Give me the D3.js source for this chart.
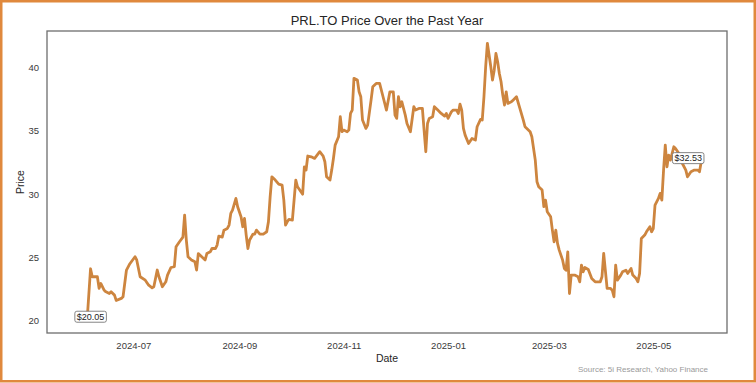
<!DOCTYPE html>
<html><head><meta charset="utf-8">
<script src="https://cdn.jsdelivr.net/npm/d3@7"></script>
<style>html,body{margin:0;padding:0;background:#fff;}svg{display:block;font-family:"Liberation Sans",Arial,Helvetica,sans-serif;}</style>
</head><body>
<svg id="chart" width="756" height="383"></svg>
<script>
const titleText = "PRL.TO Price Over the Past Year";
const dates = ["2024-06-04","2024-06-06","2024-06-07","2024-06-10","2024-06-11","2024-06-12","2024-06-14","2024-06-15","2024-06-17","2024-06-18","2024-06-20","2024-06-21","2024-06-24","2024-06-25","2024-06-27","2024-06-29","2024-07-02","2024-07-03","2024-07-05","2024-07-08","2024-07-10","2024-07-12","2024-07-13","2024-07-15","2024-07-16","2024-07-18","2024-07-20","2024-07-21","2024-07-23","2024-07-25","2024-07-26","2024-07-28","2024-07-30","2024-07-31","2024-08-01","2024-08-02","2024-08-04","2024-08-06","2024-08-07","2024-08-08","2024-08-10","2024-08-12","2024-08-13","2024-08-15","2024-08-16","2024-08-18","2024-08-19","2024-08-20","2024-08-22","2024-08-23","2024-08-25","2024-08-26","2024-08-27","2024-08-28","2024-08-30","2024-08-31","2024-09-02","2024-09-03","2024-09-04","2024-09-05","2024-09-06","2024-09-07","2024-09-09","2024-09-10","2024-09-11","2024-09-13","2024-09-15","2024-09-17","2024-09-18","2024-09-19","2024-09-20","2024-09-22","2024-09-24","2024-09-26","2024-09-27","2024-09-28","2024-09-29","2024-09-30","2024-10-02","2024-10-03","2024-10-04","2024-10-05","2024-10-08","2024-10-09","2024-10-10","2024-10-11","2024-10-13","2024-10-15","2024-10-18","2024-10-20","2024-10-21","2024-10-22","2024-10-24","2024-10-25","2024-10-26","2024-10-27","2024-10-29","2024-10-30","2024-10-31","2024-11-01","2024-11-03","2024-11-04","2024-11-05","2024-11-06","2024-11-07","2024-11-09","2024-11-10","2024-11-11","2024-11-12","2024-11-14","2024-11-15","2024-11-17","2024-11-18","2024-11-20","2024-11-22","2024-11-24","2024-11-26","2024-11-28","2024-11-30","2024-12-01","2024-12-02","2024-12-03","2024-12-04","2024-12-05","2024-12-07","2024-12-08","2024-12-10","2024-12-12","2024-12-13","2024-12-15","2024-12-17","2024-12-18","2024-12-19","2024-12-20","2024-12-21","2024-12-23","2024-12-24","2024-12-26","2024-12-28","2024-12-30","2024-12-31","2025-01-01","2025-01-03","2025-01-04","2025-01-06","2025-01-07","2025-01-08","2025-01-09","2025-01-10","2025-01-11","2025-01-13","2025-01-15","2025-01-17","2025-01-18","2025-01-20","2025-01-21","2025-01-22","2025-01-23","2025-01-24","2025-01-26","2025-01-27","2025-01-28","2025-01-29","2025-01-30","2025-01-31","2025-02-01","2025-02-02","2025-02-03","2025-02-04","2025-02-05","2025-02-07","2025-02-08","2025-02-10","2025-02-12","2025-02-14","2025-02-15","2025-02-18","2025-02-19","2025-02-21","2025-02-22","2025-02-23","2025-02-25","2025-02-26","2025-02-27","2025-02-28","2025-03-02","2025-03-03","2025-03-04","2025-03-05","2025-03-06","2025-03-07","2025-03-09","2025-03-10","2025-03-11","2025-03-12","2025-03-13","2025-03-14","2025-03-16","2025-03-18","2025-03-19","2025-03-20","2025-03-21","2025-03-22","2025-03-24","2025-03-26","2025-03-28","2025-03-31","2025-04-01","2025-04-02","2025-04-04","2025-04-06","2025-04-07","2025-04-08","2025-04-09","2025-04-10","2025-04-12","2025-04-13","2025-04-15","2025-04-16","2025-04-18","2025-04-19","2025-04-21","2025-04-22","2025-04-23","2025-04-24","2025-04-26","2025-04-27","2025-04-29","2025-04-30","2025-05-01","2025-05-02","2025-05-04","2025-05-05","2025-05-06","2025-05-07","2025-05-08","2025-05-09","2025-05-10","2025-05-11","2025-05-13","2025-05-14","2025-05-16","2025-05-18","2025-05-20","2025-05-21","2025-05-23","2025-05-25","2025-05-27","2025-05-28","2025-05-29"];
const prices = [20.05,24.1,23.47,23.47,22.55,22.94,22.4,22.28,22.15,22.28,22.02,21.6,21.76,21.89,24.0,24.5,25.05,24.8,23.47,23.2,22.8,22.6,22.68,24.0,23.47,22.68,23.07,23.6,24.2,24.26,25.84,26.23,26.6,28.33,26.37,25.05,24.8,24.65,24.0,25.3,25.05,24.8,25.3,25.44,25.7,25.7,25.97,26.68,26.6,27.15,27.28,27.55,28.47,28.73,29.65,29.0,28.2,27.42,28.07,26.76,25.7,26.37,26.84,26.84,27.15,26.84,26.84,27.02,27.81,29.78,31.36,31.1,30.78,30.7,29.52,27.55,27.81,28.0,27.94,29.52,31.1,30.57,29.99,32.15,31.89,33.0,32.94,32.81,33.34,33.0,32.55,31.36,31.1,31.89,32.81,33.86,34.52,36.1,34.92,35.05,34.92,35.05,36.36,36.63,39.13,39.0,38.07,37.68,35.84,35.18,35.44,37.41,38.47,38.73,38.73,37.68,36.63,38.07,38.07,36.23,35.97,37.68,36.89,37.28,36.23,35.57,34.92,36.89,36.63,36.76,36.76,35.05,33.34,35.57,35.97,36.1,36.89,36.63,36.36,36.15,36.36,35.97,36.5,36.63,36.63,36.36,37.1,36.63,35.18,34.65,33.99,34.39,34.26,35.31,35.89,35.84,37.68,40.05,41.9,40.05,39.0,39.78,41.1,40.44,39.52,38.86,37.81,37.02,38.07,37.15,37.28,37.41,37.68,36.76,35.84,35.31,34.92,34.52,32.68,30.97,30.57,30.31,29.0,29.52,28.6,28.2,27.15,26.23,27.15,26.1,25.57,24.78,24.12,23.99,25.44,22.15,23.6,23.6,23.47,23.07,24.39,23.86,24.2,24.05,23.33,23.07,23.07,23.47,25.31,22.55,22.55,22.41,21.89,24.39,23.2,23.6,23.86,23.99,23.73,24.12,23.6,23.33,23.07,23.73,26.49,26.76,27.02,27.42,27.02,27.28,29.13,29.65,30.05,29.52,31.89,33.86,32.15,33.07,32.68,33.73,33.6,33.2,32.41,31.89,31.36,31.76,31.89,31.89,31.76,32.53];
const yTicks = [20, 25, 30, 35, 40];
const xTickDates = ["2024-07-01","2024-09-01","2024-11-01","2025-01-01","2025-03-01","2025-05-01"];
const xLabel = "Date";
const yLabel = "Price";
const sourceText = "Source: 5i Research, Yahoo Finance";

const parse = d3.timeParse("%Y-%m-%d");
const fmt = d3.timeFormat("%Y-%m");
const data = dates.map((d, i) => ({date: parse(d), value: prices[i]}));

const svg = d3.select("#chart");
const L = 47, R = 727, T = 31, B = 333;

// x scale calibrated on the tick dates, then extended to the frame
const x = d3.scaleTime().domain([parse(xTickDates[0]), parse(xTickDates[5])]).range([133.3, 653.3]);
x.domain([x.invert(L), x.invert(R)]).range([L, R]);
const y = d3.scaleLinear().domain([19.03, 42.87]).range([B, T]);

svg.append("rect").attr("x", 0).attr("y", 0).attr("width", 756).attr("height", 383).attr("fill", "#fff");

// title
svg.append("text").attr("x", (L + R) / 2).attr("y", 25).attr("text-anchor", "middle")
  .attr("font-size", 13).attr("fill", "#262626").text(titleText);

// axes
const xAxis = d3.axisBottom(x).tickValues(xTickDates.map(parse)).tickFormat(fmt).tickSize(0).tickPadding(9);
const gx = svg.append("g").attr("transform", `translate(0,${B})`).call(xAxis);
gx.select(".domain").remove();
gx.selectAll("text").attr("font-size", 9.5).attr("fill", "#3a3a3a").attr("font-family", "Liberation Sans, Arial, sans-serif");

const yAxis = d3.axisLeft(y).tickValues(yTicks).tickFormat(d3.format("d")).tickSize(0).tickPadding(8);
const gy = svg.append("g").attr("transform", `translate(${L},0)`).call(yAxis);
gy.select(".domain").remove();
gy.selectAll("text").attr("font-size", 9.5).attr("fill", "#3a3a3a").attr("font-family", "Liberation Sans, Arial, sans-serif");

// axis labels
svg.append("text").attr("x", (L + R) / 2).attr("y", 362).attr("text-anchor", "middle")
  .attr("font-size", 10.5).attr("fill", "#262626").text(xLabel);
svg.append("text").attr("transform", `translate(24,${(T + B) / 2}) rotate(-90)`).attr("text-anchor", "middle")
  .attr("font-size", 10.5).attr("fill", "#262626").text(yLabel);

// line
const clip = svg.append("clipPath").attr("id", "clip").append("rect")
  .attr("x", L).attr("y", T).attr("width", R - L).attr("height", B - T);
svg.append("path").datum(data)
  .attr("fill", "none").attr("stroke", "#CD853F").attr("stroke-width", 2.8)
  .attr("stroke-linejoin", "round").attr("stroke-linecap", "round")
  .attr("d", d3.line().x(d => x(d.date)).y(d => y(d.value)));

// frame
svg.append("rect").attr("x", L).attr("y", T).attr("width", R - L).attr("height", B - T)
  .attr("fill", "none").attr("stroke", "#6e6e6e").attr("stroke-width", 1.3);

// annotations
function annotate(d, dx, dy) {
  const g = svg.append("g").attr("transform", `translate(${x(d.date) + dx},${y(d.value) + dy})`);
  const t = g.append("text").attr("text-anchor", "middle").attr("dy", "0.35em")
    .attr("font-size", 9).attr("fill", "#222").text("$" + d.value.toFixed(2));
  const bb = t.node().getBBox();
  g.insert("rect", "text").attr("x", bb.x - 2).attr("y", bb.y - 0.5).attr("width", bb.width + 4).attr("height", bb.height + 1)
    .attr("rx", 2).attr("fill", "#fff").attr("stroke", "#777").attr("stroke-width", 0.9);
}
annotate(data[0], 3.5, -3.5);
annotate(data[data.length - 1], -13, -4);

// source
svg.append("text").attr("x", 708).attr("y", 372).attr("text-anchor", "end")
  .attr("font-size", 8).attr("fill", "#9a9a9a").text(sourceText);

// outer border
svg.append("rect").attr("x", 1.25).attr("y", 1.25).attr("width", 753.5).attr("height", 380)
  .attr("fill", "none").attr("stroke", "#e0893d").attr("stroke-width", 2.5);
</script>
</body></html>
